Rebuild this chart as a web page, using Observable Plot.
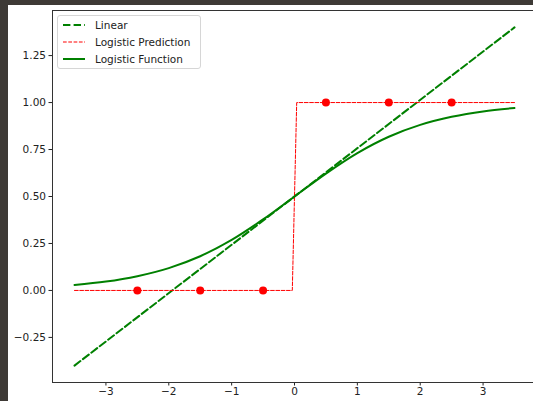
<!DOCTYPE html>
<html>
<head>
<meta charset="utf-8">
<script src="https://cdn.jsdelivr.net/npm/d3@7"></script>
<script src="https://cdn.jsdelivr.net/npm/@observablehq/plot@0.6"></script>
<style>
  html, body { margin: 0; padding: 0; background: #3e3a36; width: 533px; height: 401px; overflow: hidden; }
  #fig { position: absolute; left: 8px; top: 5px; width: 525px; height: 396px; background: #fff; overflow: hidden; font-family: "DejaVu Sans", sans-serif; }
  #fig svg { display: block; max-width: none !important; }
  #legend { position: absolute; left: 49px; top: 10px; width: 144px; height: 54px; box-sizing: border-box;
            border: 1px solid #d6d6d6; border-radius: 3px; background: rgba(255,255,255,0.85);
            font-family: "DejaVu Sans", sans-serif; font-size: 10.5px; color: #222; }
  .row { position: absolute; left: 5px; height: 14px; display: flex; align-items: center; }
  .row svg { width: 22px; height: 8px; margin-right: 10px; }
</style>
</head>
<body>
<div id="fig"></div>
<script>
// ---- data ----
const linearX = [-3.5, 3.5];
const linearY = [-0.4, 1.4];

const logisticX = [-3.5, -3, -2.5, -2, -1.5, -1, -0.5, 0, 0.5, 1, 1.5, 2, 2.5, 3, 3.5];
const logisticY = [0.029, 0.047, 0.076, 0.119, 0.182, 0.269, 0.378, 0.5, 0.622, 0.731, 0.818, 0.881, 0.924, 0.953, 0.971];

const predX = [-3.5, -0.035, 0.035, 3.5];
const predY = [0, 0, 1, 1];

const pointX = [-2.5, -1.5, -0.5, 0.5, 1.5, 2.5];
const pointY = [0, 0, 0, 1, 1, 1];

const xTicks = [-3, -2, -1, 0, 1, 2, 3];
const yTicks = [-0.25, 0, 0.25, 0.5, 0.75, 1.0, 1.25];

const legendLabels = ["Linear", "Logistic Prediction", "Logistic Function"];

// ---- tables ----
const linear = linearX.map((x, i) => ({x, y: linearY[i]}));
const logistic = logisticX.map((x, i) => ({x, y: logisticY[i]}));
const pred = predX.map((x, i) => ({x, y: predY[i]}));
const pts = pointX.map((x, i) => ({x, y: pointY[i]}));

const chart = Plot.plot({
  width: 528,
  height: 396,
  marginLeft: 44,
  marginRight: 0,
  marginTop: 5,
  marginBottom: 19,
  style: { fontFamily: "DejaVu Sans, sans-serif", fontSize: "10.5px", color: "#222", background: "white", overflow: "visible", maxWidth: "none" },
  x: { domain: [-3.85, 3.85], ticks: xTicks, tickFormat: d3.format("d"), label: null, tickSize: 3.5, tickPadding: 2 },
  y: { domain: [-0.49, 1.49], ticks: yTicks, tickFormat: d3.format(".2f"), label: null, tickSize: 3.5, tickPadding: 3 },
  marks: [
    Plot.line(linear, {x: "x", y: "y", stroke: "green", strokeWidth: 2, strokeDasharray: "7.4,3.2"}),
    Plot.line(pred, {x: "x", y: "y", stroke: "red", strokeWidth: 1, strokeDasharray: "3.7,1.6"}),
    Plot.line(logistic, {x: "x", y: "y", stroke: "green", strokeWidth: 2, curve: "catmull-rom"}),
    Plot.dot(pts, {x: "x", y: "y", r: 4, fill: "red", stroke: "none"}),
    Plot.frame({stroke: "#333", strokeWidth: 1})
  ]
});
chart.style.maxWidth = "none";
chart.style.width = "528px";
chart.style.height = "396px";
document.getElementById("fig").appendChild(chart);

// legend
const legend = document.createElement("div");
legend.id = "legend";
const styles = [
  {stroke: "green", w: 2, dash: "7.4,3.2"},
  {stroke: "red", w: 1, dash: "3.7,1.6"},
  {stroke: "green", w: 2, dash: null}
];
legendLabels.forEach((lab, i) => {
  const row = document.createElement("div");
  row.className = "row";
  row.style.top = (2 + i * 17) + "px";
  const s = styles[i];
  row.innerHTML = `<svg viewBox="0 0 22 8"><line x1="0" y1="4" x2="22" y2="4" stroke="${s.stroke}" stroke-width="${s.w}" ${s.dash ? `stroke-dasharray="${s.dash}"` : ""}/></svg><span>${lab}</span>`;
  legend.appendChild(row);
});
document.getElementById("fig").appendChild(legend);
</script>
</body>
</html>
